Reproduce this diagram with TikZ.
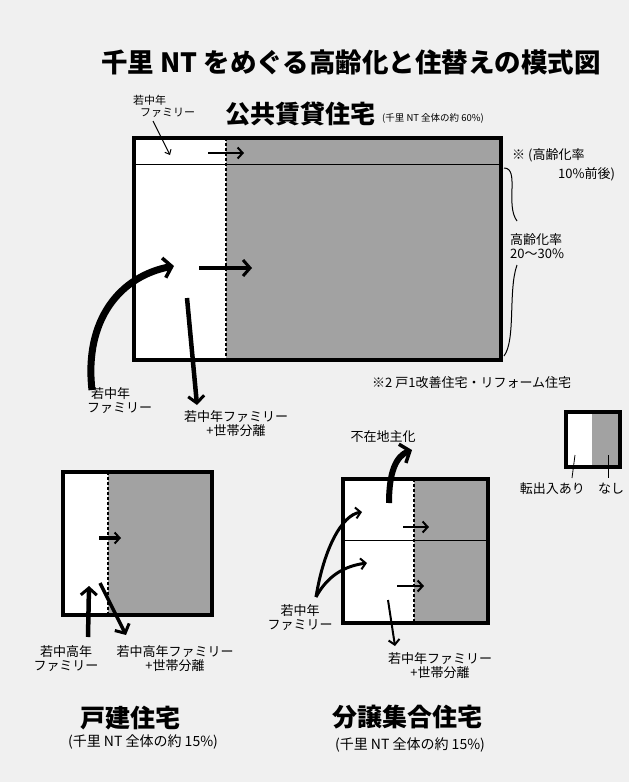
\documentclass[tikz,border=0pt]{standalone}
\usepackage{fontspec}
\setmainfont{Noto Sans CJK JP}
\usetikzlibrary{arrows.meta}
\definecolor{bg}{RGB}{240,240,240}
\definecolor{shadegray}{RGB}{162,162,162}
\tikzset{
  frame/.style={line width=4pt, draw=black},
  divline/.style={line width=1.2pt, dash pattern=on 3pt off 2pt},
  thinline/.style={line width=0.8pt},
  flowS/.style={line width=2.5pt, -{Straight Barb[length=5pt,width=11pt,line width=2pt]}},
  flowM/.style={line width=4.5pt, -{Straight Barb[length=7pt,width=16pt,line width=3pt]}},
  flowL/.style={line width=7pt, -{Straight Barb[length=8pt,width=20pt,line width=3.5pt]}},
  flowT/.style={line width=1pt, -{Straight Barb[length=4pt,width=7pt,line width=1pt]}},
  lbl/.style={font=\fontsize{13}{14}\selectfont, inner sep=0pt, align=center},
  lblS/.style={font=\fontsize{11}{12}\selectfont, inner sep=0pt},
  head/.style={font=\fontsize{25}{26}\selectfont\bfseries, inner sep=0pt},
  sub/.style={font=\fontsize{9.5}{10}\selectfont, inner sep=0pt},
  subL/.style={font=\fontsize{14}{15}\selectfont, inner sep=0pt},
}
\begin{document}
\begin{tikzpicture}[x=1pt,y=-1pt]
\fill[bg] (0,0) rectangle (629,782);
\useasboundingbox (0,0) rectangle (629,782);

% title
\node[font=\fontsize{26.5}{28}\selectfont\bfseries, inner sep=0pt] (title) at (351,62) {千里 NT をめぐる高齢化と住替えの模式図};

% ---------- public rental housing ----------
\fill[white] (134,138) rectangle (226,360);
\fill[shadegray] (226,138) rectangle (501,360);
\draw[thinline] (134,164) -- (501,164);
\draw[divline] (226,138) -- (226,360);
\draw[frame] (134,138) rectangle (501,360);

\node[head] (pubhead) at (300,114) {公共賃貸住宅};
\node[sub, anchor=west] (pubsub) at (382,118) {(千里 NT 全体の約 60\%)};

\node[lblS, anchor=west] (tfam1) at (133,100) {若中年};
\node[lblS, anchor=west] (tfam2) at (140,113) {ファミリー};
\coordinate (l1s) at (153,121);
\coordinate (l1e) at (170,155);
\draw[flowT] (l1s) -- (l1e);

\coordinate (a1s) at (208,153);
\coordinate (a1e) at (244,153);
\draw[flowS] (a1s) -- (a1e);
\coordinate (a2s) at (199,268);
\coordinate (a2e) at (252,268);
\draw[flowM] (a2s) -- (a2e);
\coordinate (c1s) at (92,390);
\coordinate (c1e) at (174,266);
\draw[flowL] (c1s) .. controls (84,320) and (120,276) .. (c1e);
\coordinate (d1s) at (187,298);
\coordinate (d1e) at (197,405);
\draw[flowM] (d1s) -- (d1e);

\node[lbl, anchor=west] (lfam1) at (91,394) {若中年};
\node[lbl, anchor=west] (lfam2) at (87,408) {ファミリー};
\node[lbl] (pubout) at (236,424) {若中年ファミリー\\+世帯分離};

% right side
\node[lbl, anchor=west] (r1) at (512,155) {※ (高齢化率};
\node[lbl, anchor=west] (r2) at (558,174) {10\%前後)};
\coordinate (b1s) at (504,168);
\coordinate (b1e) at (517,221);
\draw[line width=1pt] (b1s) .. controls (520,168) and (505,205) .. (b1e);
\node[lbl, anchor=west] (r3) at (510,240) {高齢化率};
\node[lbl, anchor=west] (r4) at (510,254) {20〜30\%};
\coordinate (b2s) at (517,265);
\coordinate (b2e) at (504,356);
\draw[line width=1pt] (b2s) .. controls (508,290) and (516,340) .. (b2e);

\node[lbl, anchor=west] (note2) at (372,383) {※2 戸1改善住宅・リフォーム住宅};

% ---------- legend ----------
\fill[white] (566,412) rectangle (592,467);
\fill[shadegray] (592,412) rectangle (620,467);
\draw[frame] (566,412) rectangle (620,467);
\coordinate (lg1s) at (575,455);
\coordinate (lg1e) at (572,478);
\coordinate (lg2s) at (608,455);
\coordinate (lg2e) at (608,478);
\draw[thinline] (lg1s) -- (lg1e);
\draw[thinline] (lg2s) -- (lg2e);
\node[lbl, anchor=east] (lgA) at (585,489) {転出入あり};
\node[lbl] (lgB) at (611,489) {なし};

% ---------- detached houses ----------
\fill[white] (63,472) rectangle (108,615);
\fill[shadegray] (108,472) rectangle (212,615);
\draw[divline] (108,472) -- (108,615);
\draw[frame] (63,472) rectangle (212,615);

\coordinate (e1s) at (99,538);
\coordinate (e1e) at (121,538);
\draw[flowS, line width=4pt] (e1s) -- (e1e);
\coordinate (e2s) at (88,637);
\coordinate (e2e) at (89,586);
\draw[flowM] (e2s) -- (e2e);
\coordinate (e3s) at (100,583);
\coordinate (e3e) at (126,635);
\draw[flowM, line width=3.5pt] (e3s) -- (e3e);

\node[lbl] (dfam) at (66,659) {若中高年\\ファミリー};
\node[lbl] (dout) at (175,659) {若中高年ファミリー\\+世帯分離};
\node[head] (dhead) at (130,718) {戸建住宅};
\node[subL] (dsub) at (143,742) {(千里 NT 全体の約 15\%)};

% ---------- condominiums ----------
\fill[white] (343,479) rectangle (414,623);
\fill[shadegray] (414,479) rectangle (488,623);
\draw[thinline] (343,540) -- (488,540);
\draw[divline] (414,479) -- (414,623);
\draw[frame] (343,479) rectangle (488,623);

\node[lbl] (absent) at (383,437) {不在地主化};
\coordinate (f1s) at (389,503);
\coordinate (f1e) at (412,450);
\draw[flowL, line width=6pt] (f1s) .. controls (389,472) and (396,456) .. (f1e);
\coordinate (f2s) at (403,527);
\coordinate (f2e) at (429,527);
\draw[flowS] (f2s) -- (f2e);
\coordinate (f3s) at (316,597);
\coordinate (f3e) at (362,512);
\draw[flowS, line width=3pt] (f3s) .. controls (324,548) and (342,515) .. (f3e);
\coordinate (f4e) at (367,563);
\draw[flowS, line width=3pt] (f3s) .. controls (328,575) and (345,566) .. (f4e);
\coordinate (f5s) at (397,586);
\coordinate (f5e) at (424,586);
\draw[flowS] (f5s) -- (f5e);
\coordinate (f6s) at (388,600);
\coordinate (f6e) at (395,646);
\draw[flowS, line width=2pt] (f6s) -- (f6e);

\node[lbl] (cfam) at (300,618) {若中年\\ファミリー};
\node[lbl] (cout) at (440,666) {若中年ファミリー\\+世帯分離};
\node[head] (chead) at (407,717) {分譲集合住宅};
\node[subL] (csub) at (410,745) {(千里 NT 全体の約 15\%)};
\end{tikzpicture}
\end{document}
